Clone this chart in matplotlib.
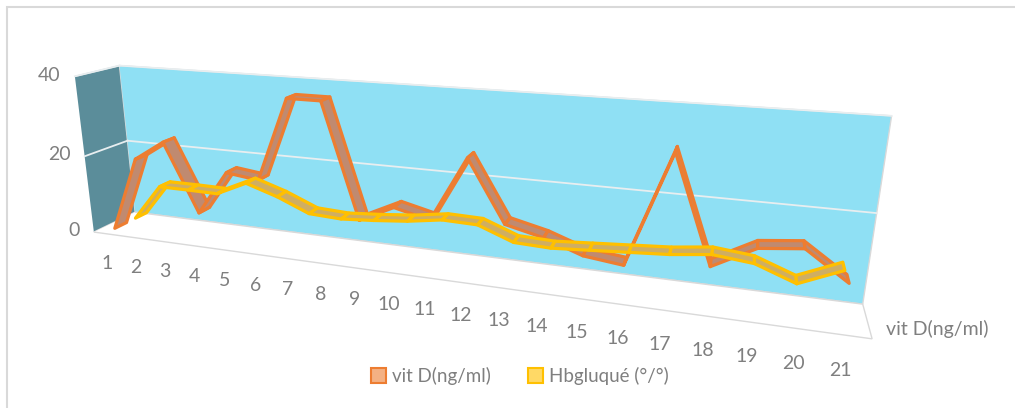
import matplotlib.pyplot as plt
import numpy as np
from mpl_toolkits.mplot3d.art3d import Poly3DCollection
from matplotlib.patches import Patch

plt.rcParams['font.family'] = ['Lato', 'DejaVu Sans']

categories = list(range(1, 22))
vit_d = [1, 20, 25, 8, 19, 18, 38, 38, 11, 15, 13, 28, 14, 12, 9, 8, 33, 10, 15, 16, 10]
hb_glyque = [1, 10.5, 10.5, 10.4, 14, 11.4, 8, 7.6, 8.2, 9, 10.3, 10.1, 6.9, 6.6, 7.2, 7.8, 8.4, 9.5, 8.6, 5.3, 9.4]
series_names = ['vit D(ng/ml)', 'Hbgluqué (°/°)']
yticks = [0, 20, 40]

edge_cols = ['#ed7d31', '#ffc000']
face_cols = ['#c08a70', '#cfae62']
depth = [0.5, 1.5]   # vit D in front, Hb behind
half_w = 0.28
grey = '#7f7f7f'

fig = plt.figure(figsize=(10.15, 4.08), dpi=100)
ax = fig.add_axes([-0.048, 0.0, 0.95, 1.08], projection='3d')
ax.set_proj_type('persp', focal_length=0.37)
ax.view_init(elev=17, azim=-71)
ax.set_box_aspect((11.5, 1.05, 2.55), zoom=1.82)

x0, x1 = 0.4, 21.6
ax.set_xlim(x0, x1)
ax.set_ylim(0, 2)
ax.set_zlim(0, 40)

# walls
ax.xaxis.set_pane_color('#5b8d9a')
ax.yaxis.set_pane_color('#8fe0f4')
ax.zaxis.set_pane_color('#ffffff')
for a in (ax.xaxis, ax.yaxis, ax.zaxis):
    a.pane.set_edgecolor('#d9d9d9')
    a.line.set_color((0, 0, 0, 0))
    a._axinfo['tick']['inward_factor'] = 0.0
    a._axinfo['tick']['outward_factor'] = 0.0
ax.grid(False)

# gridlines on back and side walls
for v in yticks[1:]:
    ax.plot([x0, x1], [2, 2], [v, v], color='#e8eef0', lw=1.3, zorder=1, clip_on=False)
    ax.plot([x0, x0], [0, 2], [v, v], color='#e8eef0', lw=1.3, zorder=1, clip_on=False)

# ribbons, back series first
for k in [1, 0]:
    vals = [vit_d, hb_glyque][k]
    yc = depth[k]
    quads = []
    for i in range(len(categories) - 1):
        xa, xb = categories[i], categories[i + 1]
        za, zb = vals[i], vals[i + 1]
        quads.append([(xa, yc - half_w, za), (xb, yc - half_w, zb),
                      (xb, yc + half_w, zb), (xa, yc + half_w, za)])
    pc = Poly3DCollection(quads, facecolor=face_cols[k], edgecolor=edge_cols[k], linewidths=2.3)
    pc.set_sort_zpos(yc)
    pc.set_clip_on(False)
    ax.add_collection3d(pc)

ax.set_xticks(categories)
ax.set_xticklabels([str(c) for c in categories])
ax.set_yticks([])
ax.set_zticks([])
ax.tick_params(axis='x', colors=grey, labelsize=14, pad=12)
for v in yticks:
    ax.text(x0 - 0.5, 0, v, str(v), color=grey, fontsize=14, ha='right', va='center', clip_on=False)
ax.text(x1 + 0.25, 0, 2.5, series_names[0], color=grey, fontsize=14, ha='left', va='center', clip_on=False)

# legend
handles = [Patch(facecolor=['#f4b183', '#ffd966'][k], edgecolor=edge_cols[k], lw=1.5, label=series_names[k]) for k in range(2)]
fig.legend(handles=handles, loc='lower center', bbox_to_anchor=(0.512, 0.015), ncol=2, frameon=False,
           fontsize=13.5, labelcolor=grey, handlelength=0.8, handleheight=0.8, handletextpad=0.3, columnspacing=2.0)

fig.patches.append(plt.Rectangle((7 / 1015, -0.1), 1.1, 1.1 - 7 / 408, transform=fig.transFigure,
                                 fill=False, edgecolor='#d9d9d9', lw=1.5))

fig.savefig('out.png', dpi=100)
